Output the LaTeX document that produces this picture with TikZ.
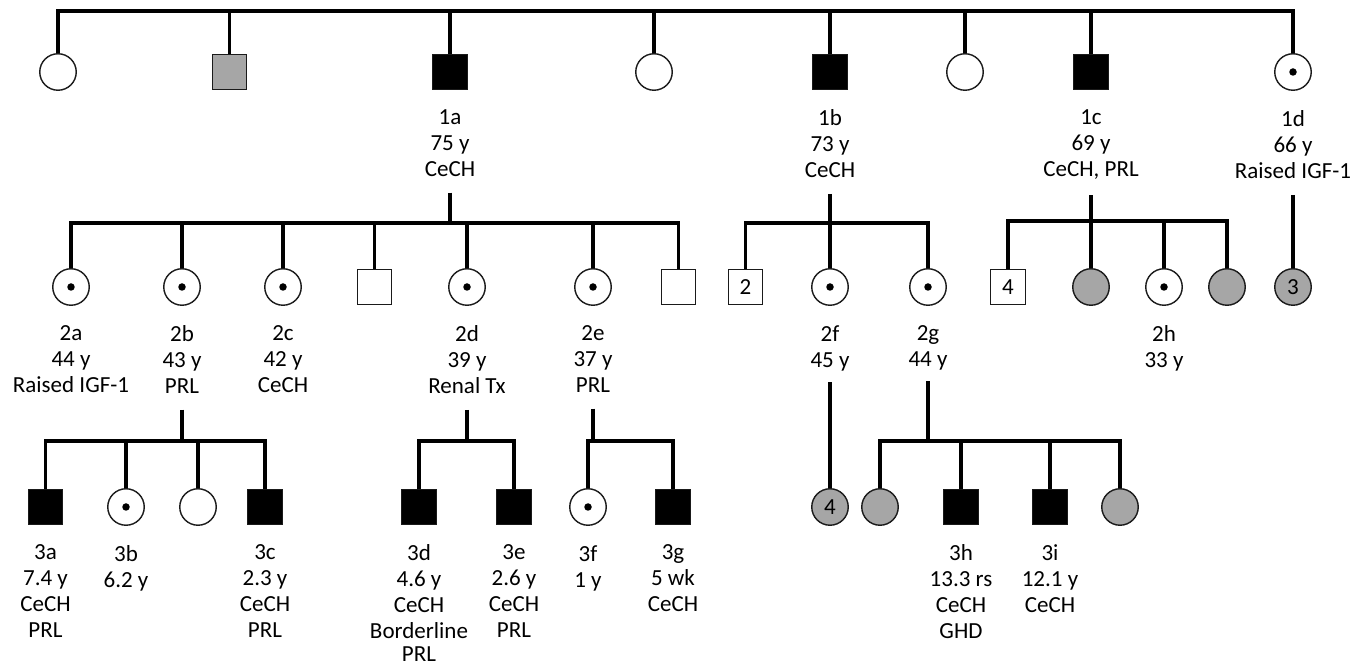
\documentclass[tikz,border=0pt]{standalone}
\usepackage{fontspec}
\setmainfont{Carlito}
\usepackage{xcolor}
\usepackage{tikz}
\usetikzlibrary{positioning}
\definecolor{pedGray}{HTML}{A6A6A6}
\definecolor{pedEdge}{HTML}{1A1A1A}
\newcommand{\pedfont}{\fontsize{13.1}{14.8}\selectfont}

\begin{document}
\begin{tikzpicture}[x=0.02cm, y=-0.02cm,
  sym/.style={draw=pedEdge, line width=0.8pt, inner sep=0, font=\pedfont},
  male/.style={sym, rectangle, minimum size=0.69cm},
  female/.style={sym, circle, minimum size=0.73cm},
  affected/.style={fill=black},
  partial/.style={fill=pedGray},
  carrier/.style={path picture={\fill[black] (path picture bounding box.center) circle (0.075cm);}},
  info/.style={align=center, inner sep=0, font=\pedfont},
  line/.style={line width=2.2pt},
  desc/.style={line, shorten <=0.32cm}]
\useasboundingbox (0,0) rectangle (1360,668);

\node[female] (u1) at (58,72) {};
\node[male, partial] (u2) at (229.5,72) {};
\node[male, affected] (p1a) at (450,72) {};
\node[female] (u3) at (654,72) {};
\node[male, affected] (p1b) at (830,72) {};
\node[female] (u4) at (965,72) {};
\node[male, affected] (p1c) at (1091,72) {};
\node[female, carrier] (p1d) at (1293,72) {};
\node[info, below=0.38cm of p1a] (t1a) {1a\\75 y\\CeCH};
\node[info, below=0.38cm of p1b] (t1b) {1b\\73 y\\CeCH};
\node[info, below=0.38cm of p1c] (t1c) {1c\\69 y\\CeCH, PRL};
\node[info, below=0.38cm of p1d] (t1d) {1d\\66 y\\Raised IGF-1};

\node[female, carrier] (p2a) at (71,287) {};
\node[female, carrier] (p2b) at (182,287) {};
\node[female, carrier] (p2c) at (283,287) {};
\node[male] (u5) at (374.5,287) {};
\node[female, carrier] (p2d) at (467,287) {};
\node[female, carrier] (p2e) at (593,287) {};
\node[male] (u6) at (678.5,287) {};
\node[male] (u7) at (745.5,287) {2};
\node[female, carrier] (p2f) at (830,287) {};
\node[female, carrier] (p2g) at (928,287) {};
\node[male] (u8) at (1008,287) {4};
\node[female, partial] (u9) at (1091,287) {};
\node[female, carrier] (p2h) at (1164,287) {};
\node[female, partial] (u10) at (1227,287) {};
\node[female, partial] (u11) at (1293,287) {3};
\node[info, below=0.38cm of p2a] (t2a) {2a\\44 y\\Raised IGF-1};
\node[info, below=0.38cm of p2b] (t2b) {2b\\43 y\\PRL};
\node[info, below=0.38cm of p2c] (t2c) {2c\\42 y\\CeCH};
\node[info, below=0.38cm of p2d] (t2d) {2d\\39 y\\Renal Tx};
\node[info, below=0.38cm of p2e] (t2e) {2e\\37 y\\PRL};
\node[info, below=0.38cm of p2f] (t2f) {2f\\45 y};
\node[info, below=0.38cm of p2g] (t2g) {2g\\44 y};
\node[info, below=0.38cm of p2h] (t2h) {2h\\33 y};

\node[male, affected] (p3a) at (45.5,507) {};
\node[female, carrier] (p3b) at (126,507) {};
\node[female] (u12) at (198,507) {};
\node[male, affected] (p3c) at (265,507) {};
\node[male, affected] (p3d) at (419,507) {};
\node[male, affected] (p3e) at (514,507) {};
\node[female, carrier] (p3f) at (588,507) {};
\node[male, affected] (p3g) at (673,507) {};
\node[female, partial] (u13) at (830,507) {4};
\node[female, partial] (u14) at (880,507) {};
\node[male, affected] (p3h) at (961,507) {};
\node[male, affected] (p3i) at (1050,507) {};
\node[female, partial] (u15) at (1120,507) {};
\node[info, below=0.38cm of p3a] (t3a) {3a\\7.4 y\\CeCH\\PRL};
\node[info, below=0.38cm of p3b] (t3b) {3b\\6.2 y};
\node[info, below=0.38cm of p3c] (t3c) {3c\\2.3 y\\CeCH\\PRL};
\node[info, below=0.38cm of p3d] (t3d) {3d\\4.6 y\\CeCH\\Borderline\\[-1.5pt]PRL};
\node[info, below=0.38cm of p3e] (t3e) {3e\\2.6 y\\CeCH\\PRL};
\node[info, below=0.38cm of p3f] (t3f) {3f\\1 y};
\node[info, below=0.38cm of p3g] (t3g) {3g\\5 wk\\CeCH};
\node[info, below=0.38cm of p3h] (t3h) {3h\\13.3 rs\\CeCH\\GHD};
\node[info, below=0.38cm of p3i] (t3i) {3i\\12.1 y\\CeCH};

\coordinate (s0) at (654,11);
\draw[line] (u1.north) |- (s0) -| (p1d.north);
\draw[line] (u2.north) -- (u2.north |- s0);
\draw[line] (p1a.north) -- (p1a.north |- s0);
\draw[line] (u3.north) -- (u3.north |- s0);
\draw[line] (p1b.north) -- (p1b.north |- s0);
\draw[line] (u4.north) -- (u4.north |- s0);
\draw[line] (p1c.north) -- (p1c.north |- s0);

\coordinate (s1a) at (450,223);
\draw[desc] (t1a.south) -- (s1a);
\draw[line] (p2a.north) |- (s1a) -| (u6.north);
\draw[line] (p2b.north) -- (p2b.north |- s1a);
\draw[line] (p2c.north) -- (p2c.north |- s1a);
\draw[line] (u5.north) -- (u5.north |- s1a);
\draw[line] (p2d.north) -- (p2d.north |- s1a);
\draw[line] (p2e.north) -- (p2e.north |- s1a);

\coordinate (s1b) at (830,223);
\draw[desc] (t1b.south) -- (p2f.north);
\draw[line] (u7.north) |- (s1b) -| (p2g.north);

\coordinate (s1c) at (1091,221);
\draw[desc] (t1c.south) -- (u9.north);
\draw[line] (u8.north) |- (s1c) -| (u10.north);
\draw[line] (p2h.north) -- (p2h.north |- s1c);

\draw[desc] (t1d.south) -- (u11.north);

\coordinate (s2b) at (182,441);
\draw[desc] (t2b.south) -- (s2b);
\draw[line] (p3a.north) |- (s2b) -| (p3c.north);
\draw[line] (p3b.north) -- (p3b.north |- s2b);
\draw[line] (u12.north) -- (u12.north |- s2b);

\coordinate (s2d) at (467,441);
\draw[desc] (t2d.south) -- (s2d);
\draw[line] (p3d.north) |- (s2d) -| (p3e.north);

\coordinate (s2e) at (593,441);
\draw[desc] (t2e.south) -- (s2e);
\draw[line] (p3f.north) |- (s2e) -| (p3g.north);

\draw[line, shorten <=0.22cm] (t2f.south) -- (u13.north);

\coordinate (s2g) at (928,441);
\draw[line, shorten <=0.22cm] (t2g.south) -- (s2g);
\draw[line] (u14.north) |- (s2g) -| (u15.north);
\draw[line] (p3h.north) -- (p3h.north |- s2g);
\draw[line] (p3i.north) -- (p3i.north |- s2g);
\end{tikzpicture}
\end{document}
